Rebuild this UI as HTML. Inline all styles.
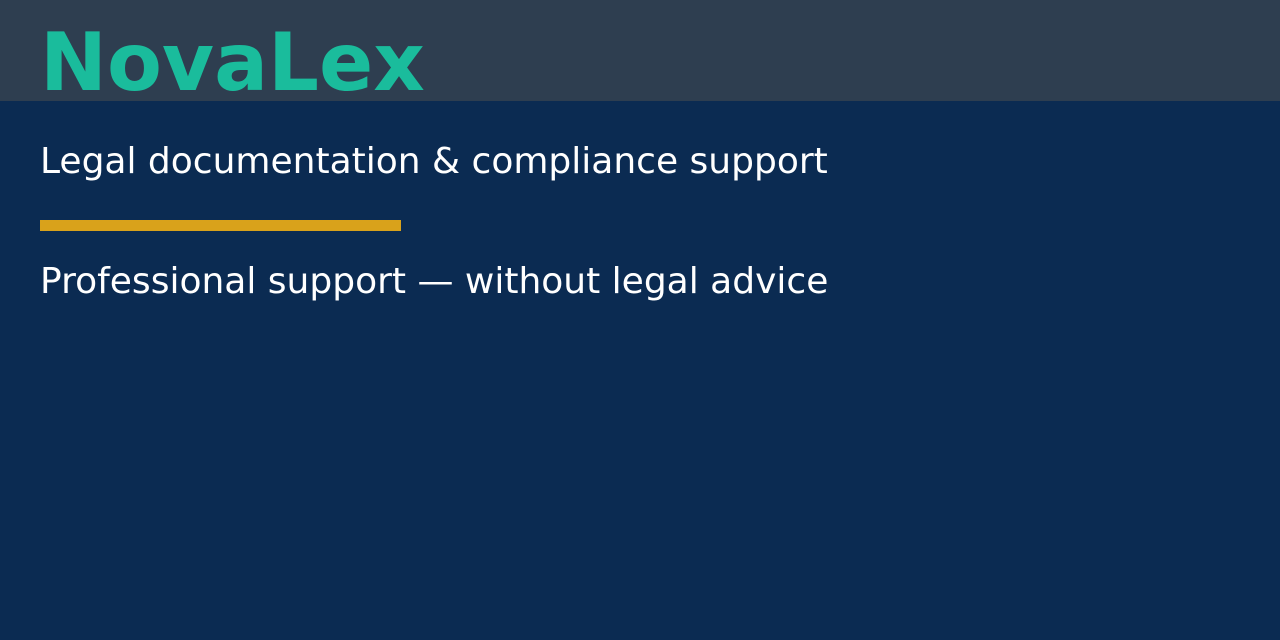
<!DOCTYPE html>
<html><head><meta charset="utf-8"><style>
html,body{margin:0;padding:0;width:1280px;height:640px;overflow:hidden;background:#0b2b52;font-family:"DejaVu Sans","Liberation Sans",sans-serif;}
.hdr{position:absolute;left:0;top:0;width:1280px;height:101px;background:#2e3e50;}
.t{position:absolute;left:40px;top:63px;height:93px;line-height:0;font-weight:bold;font-size:80px;color:#1abc9c;white-space:nowrap}
.s{position:absolute;left:40px;color:#fff;font-size:36px;white-space:nowrap}
.bar{position:absolute;left:40px;top:220px;width:361px;height:11px;background:#d9a21b;}
</style></head><body>
<div class="hdr"></div>
<div class="t">NovaLex</div>
<div class="s" style="top:141px">Legal documentation &amp; compliance support</div>
<div class="bar"></div>
<div class="s" style="top:261px">Professional support — without legal advice</div>
</body></html>
